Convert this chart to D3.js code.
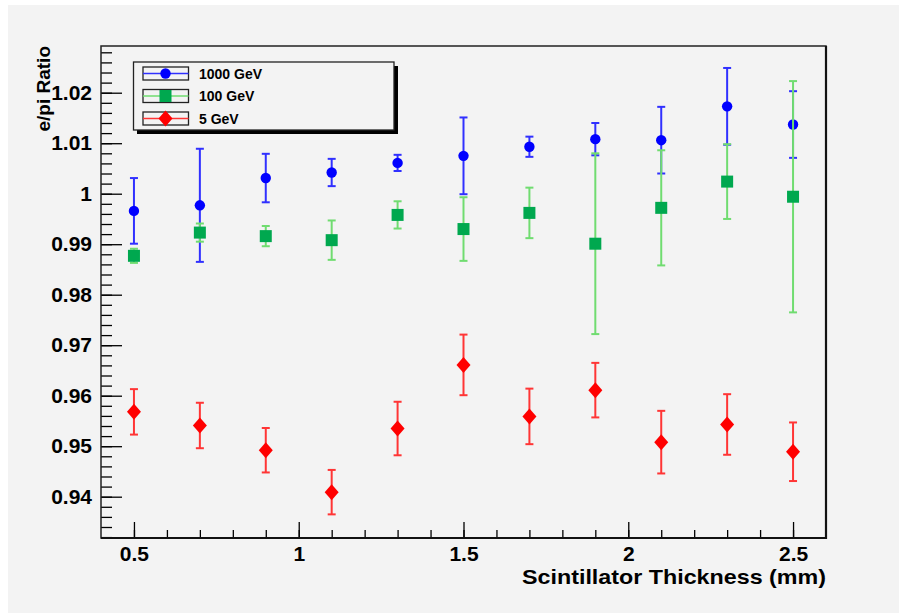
<!DOCTYPE html>
<html>
<head>
<meta charset="utf-8">
<script src="https://cdn.jsdelivr.net/npm/d3@7"></script>
<style>
  body { margin: 0; background: #fff; }
  text { font-family: "Liberation Sans", Arial, sans-serif; font-weight: bold; }
</style>
</head>
<body>
<svg id="chart" width="899" height="613"></svg>
<script>
var thickness = [0.5, 0.7, 0.9, 1.1, 1.3, 1.5, 1.7, 1.9, 2.1, 2.3, 2.5];

var ratio1000 = [0.9966, 0.9977, 1.0031, 1.0042, 1.0061, 1.0075, 1.0093, 1.0108, 1.0106, 1.0173, 1.0137];
var err1000   = [0.0065, 0.0112, 0.0048, 0.0027, 0.0016, 0.0076, 0.0020, 0.0032, 0.0066, 0.0076, 0.0066];

var ratio100 = [0.9877, 0.9923, 0.9916, 0.9908, 0.9958, 0.9930, 0.9962, 0.9901, 0.9972, 1.0024, 0.9994];
var err100   = [0.0014, 0.0018, 0.0020, 0.0039, 0.0027, 0.0063, 0.0050, 0.0179, 0.0114, 0.0074, 0.0229];

var ratio5 = [0.9568, 0.9541, 0.9492, 0.9409, 0.9535, 0.9661, 0.9559, 0.9611, 0.9508, 0.9543, 0.9489];
var err5   = [0.0045, 0.0045, 0.0044, 0.0044, 0.0053, 0.0060, 0.0055, 0.0054, 0.0062, 0.0060, 0.0058];

var xTicks = [0.5, 1, 1.5, 2, 2.5];
var yTicks = [0.94, 0.95, 0.96, 0.97, 0.98, 0.99, 1, 1.01, 1.02];

var series = [
  {name: "1000 GeV", y: ratio1000, e: err1000, marker: "circle",  fill: "#0000ff", line: "#3030ff"},
  {name: "100 GeV",  y: ratio100,  e: err100,  marker: "square",  fill: "#00a84f", line: "#70dc70"},
  {name: "5 GeV",    y: ratio5,    e: err5,    marker: "diamond", fill: "#ff0000", line: "#ff3535"}
];

var svg = d3.select("#chart");
var fLeft = 101, fRight = 826, fTop = 46, fBottom = 538;

// canvas
svg.append("rect").attr("x", 8).attr("y", 5).attr("width", 891).attr("height", 608).attr("fill", "#f3f3f3");

var x = d3.scaleLinear().domain([0.4, 2.6]).range([fLeft, fRight]);
var y = d3.scaleLinear().domain([0.93182, 1.02925]).range([fBottom, fTop]);

// minor ticks
var xMinor = d3.range(5, 26).map(function(d) { return d / 10; });
var yMinor = d3.range(466, 515).map(function(d) { return d / 500; });

svg.append("g").attr("transform", "translate(0," + fBottom + ")")
  .call(d3.axisTop(x).tickValues(xMinor).tickSize(8).tickFormat(""))
  .call(function(g) { g.select(".domain").remove(); });
svg.append("g").attr("transform", "translate(0," + fBottom + ")")
  .call(d3.axisTop(x).tickValues(xTicks).tickSize(16).tickFormat(""))
  .call(function(g) { g.select(".domain").remove(); });
svg.append("g").attr("transform", "translate(" + fLeft + ",0)")
  .call(d3.axisRight(y).tickValues(yMinor).tickSize(11).tickFormat(""))
  .call(function(g) { g.select(".domain").remove(); });
svg.append("g").attr("transform", "translate(" + fLeft + ",0)")
  .call(d3.axisRight(y).tickValues(yTicks).tickSize(21).tickFormat(""))
  .call(function(g) { g.select(".domain").remove(); });
svg.selectAll(".tick line").attr("stroke", "#000").attr("stroke-width", 1.3);

// tick labels
var xl = svg.append("g").attr("transform", "translate(0," + fBottom + ")")
  .call(d3.axisBottom(x).tickValues(xTicks).tickSize(0).tickPadding(8).tickFormat(function(d) { return String(d); }));
xl.select(".domain").remove();
xl.selectAll("text").attr("font-size", 21).attr("fill", "#000");

var yl = svg.append("g").attr("transform", "translate(" + fLeft + ",0)")
  .call(d3.axisLeft(y).tickValues(yTicks).tickSize(0).tickPadding(9).tickFormat(function(d) { return String(+d.toFixed(2)); }));
yl.select(".domain").remove();
yl.selectAll("text").attr("font-size", 21).attr("fill", "#000");

// frame
svg.append("rect").attr("x", fLeft).attr("y", fTop).attr("width", fRight - fLeft).attr("height", fBottom - fTop)
  .attr("fill", "none").attr("stroke", "#222").attr("stroke-width", 1.5);
svg.append("path").attr("d", "M" + fLeft + "," + fBottom + "H" + fRight + "V" + fTop)
  .attr("fill", "none").attr("stroke", "#111").attr("stroke-width", 2.2);

// axis titles
svg.append("text").attr("x", fRight).attr("y", 584).attr("text-anchor", "end")
  .attr("font-size", 21).attr("textLength", 304).attr("lengthAdjust", "spacingAndGlyphs")
  .text("Scintillator Thickness (mm)");
svg.append("text").attr("transform", "translate(50," + fTop + ") rotate(-90)").attr("text-anchor", "end")
  .attr("font-size", 19).text("e/pi Ratio");

function marker(g, kind, color, cx, cy) {
  if (kind === "circle") {
    g.append("circle").attr("cx", cx).attr("cy", cy).attr("r", 5.2).attr("fill", color);
  } else if (kind === "square") {
    g.append("rect").attr("x", cx - 6).attr("y", cy - 6).attr("width", 12).attr("height", 12).attr("fill", color);
  } else {
    g.append("path").attr("d", "M" + cx + "," + (cy - 8) + "L" + (cx + 7) + "," + cy + "L" + cx + "," + (cy + 8) + "L" + (cx - 7) + "," + cy + "Z")
      .attr("fill", color);
  }
}

// data
series.forEach(function(s) {
  var g = svg.append("g");
  thickness.forEach(function(t, i) {
    var cx = x(t), y0 = y(s.y[i] - s.e[i]), y1 = y(s.y[i] + s.e[i]);
    g.append("line").attr("x1", cx).attr("x2", cx).attr("y1", y0).attr("y2", y1)
      .attr("stroke", s.line).attr("stroke-width", 2);
    [y0, y1].forEach(function(yy) {
      g.append("line").attr("x1", cx - 4).attr("x2", cx + 4).attr("y1", yy).attr("y2", yy)
        .attr("stroke", s.line).attr("stroke-width", 2);
    });
  });
  thickness.forEach(function(t, i) {
    marker(g, s.marker, s.fill, x(t), y(s.y[i]));
  });
});

// legend
var lg = svg.append("g");
lg.append("rect").attr("x", 137).attr("y", 66).attr("width", 261).attr("height", 68).attr("fill", "#000");
lg.append("rect").attr("x", 133.5).attr("y", 62).attr("width", 260.5).attr("height", 68)
  .attr("fill", "#f3f3f3").attr("stroke", "#222").attr("stroke-width", 1.3);
series.forEach(function(s, i) {
  var cy = 73.5 + i * 22.5;
  lg.append("rect").attr("x", 143).attr("y", cy - 6.5).attr("width", 45.5).attr("height", 13)
    .attr("fill", "none").attr("stroke", "#222").attr("stroke-width", 1.3);
  lg.append("line").attr("x1", 143).attr("x2", 188.5).attr("y1", cy).attr("y2", cy)
    .attr("stroke", s.line).attr("stroke-width", 1.5);
  marker(lg, s.marker, s.fill, 165.5, cy);
  lg.append("text").attr("x", 199).attr("y", cy + 5).attr("font-size", 14).attr("fill", "#000").text(s.name);
});
</script>
</body>
</html>
